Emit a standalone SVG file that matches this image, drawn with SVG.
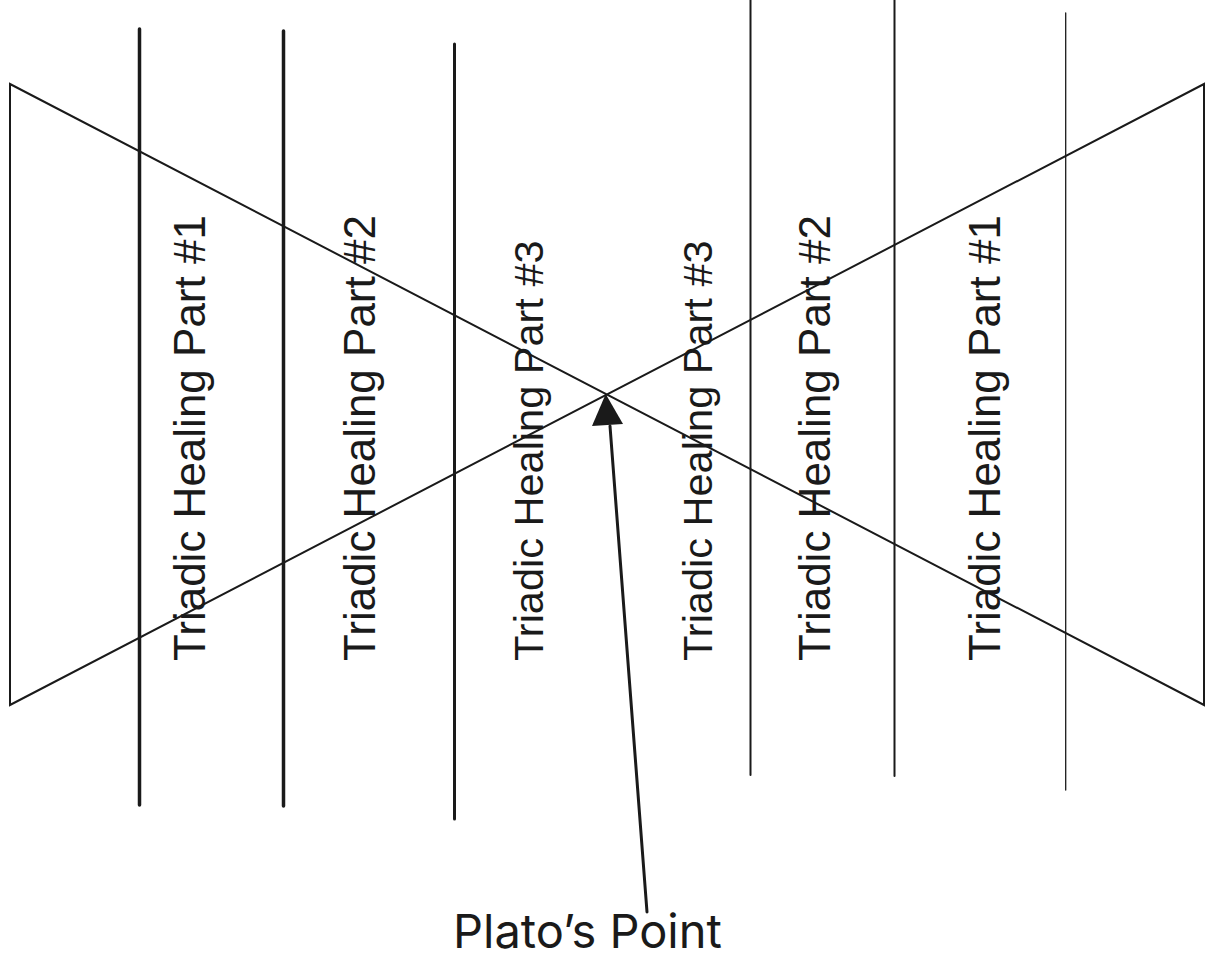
<svg xmlns="http://www.w3.org/2000/svg" width="1206" height="969" viewBox="0 0 1206 969">
<defs>
<style>
.ln{stroke:#1a1a1a;fill:none;stroke-linecap:round}
.vt{font-family:"Liberation Sans",Arial,sans-serif;fill:#1a1a1a}
.lb{font-family:Inter,"Liberation Sans",sans-serif;fill:#1a1a1a;font-size:47px}
</style>
</defs>
<rect width="1206" height="969" fill="#fff"/>
<g id="bowtie">
<path class="ln" stroke-width="2" d="M10,84 L1204,705 L1204,84 L10,705 Z"/>
</g>
<g id="left-lines">
<line class="ln" stroke-width="3.5" x1="139.5" y1="29" x2="139.5" y2="805"/>
<line class="ln" stroke-width="3.5" x1="283.5" y1="31" x2="283.5" y2="806"/>
<line class="ln" stroke-width="3" x1="454.5" y1="44" x2="454.5" y2="819"/>
</g>
<g id="right-lines">
<line class="ln" stroke-width="2" x1="750.5" y1="0" x2="750.5" y2="775"/>
<line class="ln" stroke-width="2" x1="894.5" y1="0" x2="894.5" y2="776"/>
<line class="ln" stroke-width="1.3" x1="1065.7" y1="13" x2="1065.7" y2="790"/>
</g>
<g id="labels">
<text class="vt" font-size="44" transform="translate(205,661) rotate(-90)">Triadic Healing Part #1</text>
<text class="vt" font-size="44" transform="translate(375,661) rotate(-90)">Triadic Healing Part #2</text>
<text class="vt" font-size="41.5" transform="translate(543,661) rotate(-90)">Triadic Healing Part #3</text>
<text class="vt" font-size="41.5" transform="translate(712,661) rotate(-90)">Triadic Healing Part #3</text>
<text class="vt" font-size="44" transform="translate(830,661) rotate(-90)">Triadic Healing Part #2</text>
<text class="vt" font-size="44" transform="translate(1000,661) rotate(-90)">Triadic Healing Part #1</text>
</g>
<g id="connectors">
<line class="ln" stroke-width="3" x1="647" y1="912" x2="610" y2="426"/>
<path d="M605.7,394 L592,426 L623,424 Z" fill="#1a1a1a"/>
</g>
<g id="plato">
<text class="lb" x="453" y="948">Plato’s Point</text>
</g>
</svg>
